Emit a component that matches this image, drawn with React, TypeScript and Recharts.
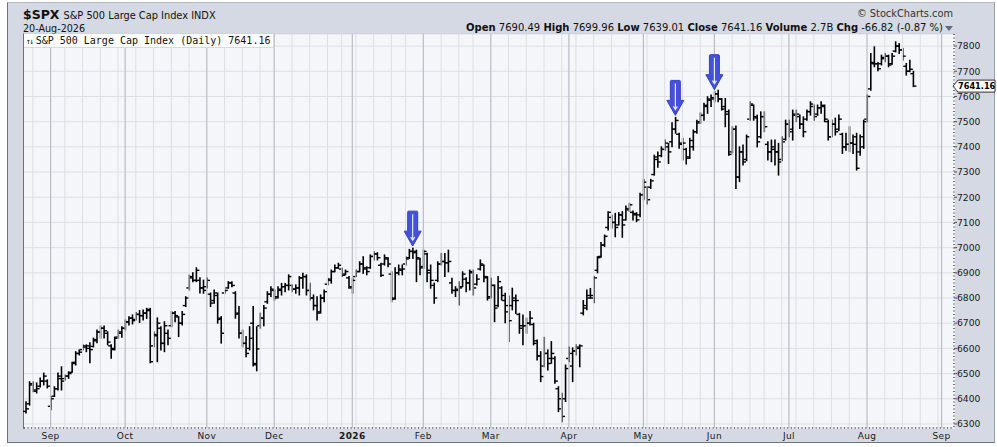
import React from "react";
import {
  BarChart,
  Bar,
  XAxis,
  YAxis,
  CartesianGrid,
  ReferenceLine,
  ReferenceDot,
} from "recharts";

// trading calendar (NYSE holidays skipped), blank slots run on past the last bar
const firstDay = "2025-08-21";
const axisEnd = "2026-09-04";
const holidays = [
  "2025-09-01", "2025-11-27", "2025-12-25", "2026-01-01", "2026-01-19",
  "2026-02-16", "2026-04-03", "2026-05-25", "2026-06-19", "2026-07-03",
];

const opens = [
  6350, 6380, 6460, 6430, 6450, 6470, 6470, 6370, 6410, 6440,
  6480, 6480, 6490, 6505, 6545, 6580, 6595, 6605, 6610, 6608,
  6630, 6665, 6680, 6660, 6610, 6600, 6645, 6660, 6680, 6705,
  6720, 6715, 6735, 6730, 6740, 6755, 6610, 6650, 6680, 6620,
  6660, 6690, 6740, 6725, 6700, 6770, 6840, 6880, 6870, 6870,
  6840, 6845, 6815, 6790, 6810, 6720, 6820, 6840, 6860, 6820,
  6740, 6660, 6620, 6600, 6700, 6540, 6690, 6720, 6785, 6815,
  6830, 6805, 6830, 6845, 6850, 6850, 6835, 6840, 6880, 6885,
  6830, 6800, 6770, 6745, 6800, 6855, 6870, 6905, 6920, 6915,
  6895, 6880, 6840, 6885, 6905, 6935, 6915, 6920, 6965, 6975,
  6930, 6935, 6955, 6895, 6800, 6900, 6910, 6935, 6960, 6985,
  6985, 6955, 6925, 6975, 6910, 6850, 6870, 6935, 6945, 6940,
  6860, 6830, 6830, 6845, 6875, 6860, 6900, 6855, 6915, 6930,
  6880, 6805, 6850, 6770, 6840, 6790, 6770, 6770, 6790, 6735,
  6690, 6690, 6700, 6695, 6630, 6570, 6530, 6580, 6560, 6560,
  6440, 6400, 6400, 6560, 6530, 6590, 6600, 6740, 6760, 6800,
  6800, 6910, 6965, 7010, 7080, 7120, 7100, 7090, 7130, 7110,
  7150, 7140, 7130, 7130, 7210, 7240, 7240, 7290, 7350, 7365,
  7390, 7400, 7420, 7470, 7450, 7410, 7390, 7360, 7400, 7460,
  7500, 7525, 7560, 7585, 7590, 7610, 7590, 7560, 7540, 7380,
  7470, 7280, 7380, 7350, 7510, 7565, 7515, 7440, 7520, 7410,
  7380, 7390, 7380, 7350, 7430, 7490, 7460, 7525, 7520, 7490,
  7510, 7540, 7560, 7530, 7555, 7560, 7500, 7440, 7490, 7470,
  7450, 7400, 7410, 7415, 7440, 7380, 7400, 7510, 7630, 7730,
  7730, 7730, 7750, 7760, 7730, 7780, 7800, 7785, 7720, 7700,
  7690.49,
];
const highs = [
  6388, 6468, 6468, 6463, 6482, 6502, 6475, 6409, 6448, 6502,
  6527, 6494, 6507, 6545, 6587, 6594, 6614, 6614, 6622, 6641,
  6673, 6689, 6689, 6666, 6614, 6645, 6673, 6686, 6713, 6726,
  6733, 6742, 6750, 6752, 6759, 6759, 6666, 6721, 6686, 6706,
  6673, 6746, 6746, 6726, 6746, 6805, 6891, 6900, 6920, 6880,
  6871, 6879, 6820, 6832, 6820, 6726, 6832, 6865, 6865, 6825,
  6766, 6673, 6647, 6686, 6766, 6686, 6740, 6770, 6825, 6845,
  6832, 6845, 6858, 6858, 6892, 6852, 6852, 6885, 6898, 6892,
  6859, 6812, 6805, 6812, 6832, 6878, 6911, 6931, 6938, 6918,
  6911, 6885, 6878, 6911, 6944, 6964, 6924, 6971, 6984, 6980,
  6938, 6971, 6960, 6904, 6920, 6931, 6931, 6964, 6993, 6998,
  6990, 6958, 6990, 6978, 6931, 6859, 6944, 6977, 6977, 6990,
  6878, 6845, 6865, 6904, 6880, 6911, 6911, 6892, 6951, 6931,
  6885, 6878, 6852, 6885, 6845, 6819, 6808, 6839, 6812, 6739,
  6733, 6720, 6746, 6700, 6633, 6587, 6644, 6594, 6627, 6567,
  6448, 6422, 6534, 6606, 6602, 6614, 6614, 6790, 6832, 6838,
  6885, 6964, 7020, 7050, 7142, 7129, 7136, 7139, 7143, 7165,
  7176, 7145, 7139, 7216, 7271, 7242, 7271, 7367, 7380, 7400,
  7427, 7414, 7496, 7517, 7454, 7434, 7394, 7434, 7467, 7506,
  7535, 7573, 7599, 7606, 7619, 7625, 7592, 7592, 7546, 7480,
  7483, 7400, 7407, 7447, 7579, 7566, 7526, 7539, 7539, 7420,
  7427, 7427, 7414, 7440, 7506, 7506, 7546, 7546, 7526, 7519,
  7546, 7579, 7566, 7566, 7579, 7566, 7506, 7506, 7514, 7526,
  7454, 7454, 7480, 7447, 7454, 7447, 7506, 7606, 7771, 7797,
  7735, 7764, 7771, 7764, 7771, 7817, 7810, 7791, 7731, 7744,
  7699.96,
];
const lows = [
  6344, 6375, 6428, 6423, 6447, 6455, 6443, 6356, 6409, 6435,
  6435, 6475, 6481, 6505, 6534, 6574, 6594, 6587, 6543, 6606,
  6622, 6641, 6641, 6614, 6561, 6594, 6641, 6644, 6673, 6693,
  6697, 6713, 6703, 6713, 6719, 6543, 6606, 6547, 6594, 6587,
  6614, 6686, 6706, 6647, 6693, 6766, 6832, 6865, 6865, 6820,
  6819, 6840, 6766, 6779, 6700, 6621, 6819, 6839, 6845, 6720,
  6641, 6606, 6567, 6594, 6530, 6511, 6680, 6690, 6779, 6806,
  6792, 6800, 6812, 6825, 6832, 6825, 6819, 6812, 6839, 6812,
  6792, 6753, 6713, 6740, 6785, 6852, 6859, 6904, 6918, 6885,
  6892, 6839, 6819, 6885, 6904, 6898, 6892, 6918, 6951, 6951,
  6885, 6931, 6924, 6785, 6795, 6892, 6892, 6931, 6957, 6957,
  6865, 6892, 6918, 6865, 6839, 6779, 6865, 6931, 6885, 6904,
  6819, 6806, 6772, 6845, 6825, 6832, 6812, 6852, 6911, 6865,
  6792, 6800, 6706, 6765, 6792, 6702, 6627, 6753, 6739, 6660,
  6614, 6660, 6693, 6614, 6554, 6468, 6527, 6514, 6541, 6462,
  6349, 6309, 6389, 6547, 6468, 6574, 6527, 6733, 6753, 6799,
  6781, 6900, 6962, 7004, 7070, 7077, 7043, 7090, 7041, 7110,
  7143, 7110, 7103, 7123, 7190, 7173, 7235, 7288, 7319, 7361,
  7387, 7334, 7400, 7454, 7394, 7348, 7332, 7354, 7387, 7454,
  7493, 7506, 7533, 7560, 7579, 7579, 7546, 7480, 7367, 7375,
  7235, 7262, 7328, 7345, 7506, 7506, 7400, 7435, 7460, 7348,
  7341, 7328, 7288, 7345, 7427, 7440, 7427, 7500, 7473, 7440,
  7506, 7526, 7506, 7525, 7533, 7500, 7427, 7440, 7447, 7465,
  7374, 7387, 7381, 7374, 7308, 7367, 7394, 7500, 7625, 7718,
  7702, 7725, 7738, 7718, 7728, 7777, 7771, 7744, 7685, 7698,
  7639.01,
];
const closes = [
  6360, 6455, 6435, 6440, 6470, 6490, 6450, 6400, 6440, 6490,
  6470, 6490, 6500, 6540, 6580, 6585, 6610, 6600, 6595, 6635,
  6665, 6680, 6670, 6625, 6595, 6640, 6665, 6680, 6705, 6720,
  6710, 6735, 6730, 6740, 6750, 6547, 6655, 6700, 6620, 6690,
  6640, 6740, 6730, 6700, 6735, 6800, 6885, 6870, 6910, 6840,
  6830, 6870, 6780, 6820, 6715, 6660, 6830, 6860, 6850, 6736,
  6660, 6620, 6580, 6640, 6535, 6598, 6720, 6760, 6815, 6835,
  6800, 6835, 6845, 6850, 6885, 6835, 6840, 6880, 6885, 6830,
  6800, 6770, 6740, 6800, 6825, 6875, 6905, 6920, 6930, 6890,
  6905, 6845, 6870, 6905, 6935, 6920, 6905, 6965, 6975, 6960,
  6890, 6960, 6935, 6795, 6900, 6915, 6915, 6955, 6985, 6980,
  6960, 6920, 6985, 6900, 6870, 6800, 6935, 6945, 6940, 6945,
  6830, 6835, 6840, 6895, 6860, 6905, 6840, 6875, 6935, 6885,
  6800, 6850, 6760, 6865, 6810, 6745, 6710, 6800, 6790, 6680,
  6690, 6700, 6720, 6620, 6570, 6488, 6580, 6540, 6580, 6470,
  6360, 6330, 6520, 6580, 6590, 6605, 6610, 6770, 6810, 6810,
  6880, 6960, 7010, 7045, 7140, 7100, 7080, 7130, 7090, 7155,
  7170, 7135, 7110, 7210, 7260, 7190, 7265, 7360, 7340, 7390,
  7415, 7380, 7470, 7505, 7415, 7415, 7355, 7425, 7460, 7495,
  7525, 7565, 7590, 7595, 7610, 7590, 7550, 7530, 7370, 7470,
  7280, 7380, 7340, 7440, 7570, 7520, 7420, 7520, 7480, 7380,
  7400, 7380, 7340, 7420, 7490, 7470, 7530, 7530, 7490, 7460,
  7540, 7570, 7520, 7555, 7565, 7510, 7440, 7490, 7460, 7510,
  7400, 7410, 7415, 7410, 7315, 7440, 7500, 7600, 7735, 7730,
  7710, 7755, 7760, 7725, 7760, 7800, 7785, 7760, 7700, 7708,
  7641.16,
];

const yTicks = [
  6300, 6400, 6500, 6600, 6700, 6800, 6900, 7000,
  7100, 7200, 7300, 7400, 7500, 7600, 7700, 7800,
];
const monthTickLabels = [
  "Sep", "Oct", "Nov", "Dec", "2026", "Feb", "Mar",
  "Apr", "May", "Jun", "Jul", "Aug", "Sep",
];
const arrowDates = ["2026-01-28", "2026-05-14", "2026-06-01"];

function tradingDays(from: string, to: string) {
  const out: string[] = [];
  const d = new Date(from + "T00:00:00Z");
  const end = new Date(to + "T00:00:00Z");
  while (d <= end) {
    const wd = d.getUTCDay();
    const iso = d.toISOString().slice(0, 10);
    if (wd !== 0 && wd !== 6 && !holidays.includes(iso)) out.push(iso);
    d.setUTCDate(d.getUTCDate() + 1);
  }
  return out;
}

const dates = tradingDays(firstDay, axisEnd);
const weekday = (s: string) => new Date(s + "T00:00:00Z").getUTCDay();

const rows = dates.map((date, i) =>
  i < closes.length
    ? { date, open: opens[i], high: highs[i], low: lows[i], close: closes[i] }
    : { date }
);

const monthStarts = dates.filter(
  (d, i) => i > 0 && d.slice(5, 7) !== dates[i - 1].slice(5, 7)
);
const weekStarts = dates.filter(
  (d, i) =>
    i > 0 && weekday(d) <= weekday(dates[i - 1]) && !monthStarts.includes(d)
);

const lastClose = closes[closes.length - 1];
const highOn = (d: string) => highs[dates.indexOf(d)];

const SANS = "'DejaVu Sans', Verdana, sans-serif";
const MONO = "'DejaVu Sans Mono', monospace";

const OhlcBar = (props: any) => {
  const { x, y, width, height, payload } = props;
  if (!payload || payload.high == null || x == null) return null;
  const top = Math.min(y, y + height);
  const bottom = Math.max(y, y + height);
  const span = payload.high - payload.low;
  const py = (v: number) =>
    span > 0 ? top + ((payload.high - v) / span) * (bottom - top) : top;
  const cx = x + width / 2;
  const o = py(payload.open);
  const c = py(payload.close);
  return (
    <g>
      <line x1={cx} x2={cx} y1={top - 0.5} y2={bottom + 0.5} stroke="#000" strokeWidth={1.6} />
      <line x1={cx - 3} x2={cx} y1={o} y2={o} stroke="#000" strokeWidth={1.4} />
      <line x1={cx} x2={cx + 3} y1={c} y2={c} stroke="#000" strokeWidth={1.4} />
    </g>
  );
};

const ArrowMark = (props: any) => {
  const { cx, cy } = props;
  if (cx == null || cy == null) return null;
  const tip = cy - 2;
  const top = tip - 35;
  const neck = tip - 15;
  const outer = `M${cx - 5},${top + 1} Q${cx - 5},${top} ${cx - 4},${top} L${cx + 4},${top} Q${cx + 5},${top} ${cx + 5},${top + 1} L${cx + 5},${neck} L${cx + 8.5},${neck} L${cx},${tip} L${cx - 8.5},${neck} L${cx - 5},${neck} Z`;
  const inner = `M${cx},${top + 3} L${cx},${tip - 7} M${cx - 2},${tip - 9} L${cx},${tip - 6} L${cx + 2},${tip - 9}`;
  return (
    <g>
      <path d={outer} fill="#4352d8" stroke="#3342c6" strokeWidth={1} strokeLinejoin="round" />
      <path d={inner} fill="none" stroke="#e6e9ff" strokeWidth={1.2} />
    </g>
  );
};

const PriceTag = (props: any) => {
  const vb = props.viewBox;
  if (!vb) return null;
  const y = vb.y;
  const x0 = vb.x + vb.width;
  const path = `M${x0 - 1},${y} L${x0 + 4},${y - 6} L${x0 + 41},${y - 6} L${x0 + 41},${y + 6} L${x0 + 4},${y + 6} Z`;
  return (
    <g>
      <path d={path} fill="#fff" stroke="#333" strokeWidth={1} />
      <text x={x0 + 4} y={y + 3.2} fontFamily={SANS} fontSize={8.2} fontWeight="bold" fill="#000">
        {lastClose.toFixed(2)}
      </text>
    </g>
  );
};

const MonthTick = (props: any) => {
  const { x, y, payload } = props;
  const label = monthTickLabels[monthStarts.indexOf(payload.value)] ?? "";
  return (
    <text
      x={x}
      y={y + 11}
      textAnchor="middle"
      fontFamily={SANS}
      fontSize={9}
      letterSpacing={0.4}
      fontWeight={label === "2026" ? "bold" : "normal"}
      fill="#1a1a1a"
    >
      {label}
    </text>
  );
};

export default function App() {
  return (
    <div
      style={{
        position: "absolute",
        left: 0,
        top: 0,
        width: 997,
        height: 447,
        background: "#fff",
        overflow: "hidden",
        fontFamily: SANS,
        color: "#111",
      }}
    >
      <div
        style={{
          position: "absolute",
          left: 7,
          top: 2,
          width: 986,
          height: 439,
          background: "#d4d9e3",
          borderTop: "1px solid #b3b7c0",
          borderLeft: "1px solid #6f737c",
          borderBottom: "1px solid #6f737c",
          borderRight: "1px solid #9a9ea8",
        }}
      />
      <div
        style={{
          position: "absolute",
          left: 23,
          top: 33,
          width: 931,
          height: 395,
          background: "#f5f6fa",
          borderTop: "1px solid #c4c8d0",
          borderLeft: "1px solid #6c707a",
        }}
      />

      <div
        style={{
          position: "absolute",
          left: 23,
          top: 6,
          height: 16,
          lineHeight: "16px",
          whiteSpace: "nowrap",
        }}
      >
        <span style={{ fontWeight: "bold", fontSize: 12.5 }}>$SPX</span>
        <span style={{ fontSize: 9.8, marginLeft: 4 }}>S&amp;P 500 Large Cap Index INDX</span>
      </div>
      <div
        style={{
          position: "absolute",
          left: 23,
          top: 23,
          height: 11,
          lineHeight: "11px",
          fontSize: 9.6,
          whiteSpace: "nowrap",
        }}
      >
        20-Aug-2026
      </div>
      <div
        style={{
          position: "absolute",
          right: 997 - 953,
          top: 8,
          lineHeight: "12px",
          fontSize: 9.8,
          color: "#333",
          whiteSpace: "nowrap",
        }}
      >
        © StockCharts.com
      </div>
      <div
        style={{
          position: "absolute",
          right: 997 - 943,
          top: 22,
          lineHeight: "12px",
          fontSize: 10,
          whiteSpace: "nowrap",
        }}
      >
        <b>Open</b> 7690.49 <b>High</b> 7699.96 <b>Low</b> 7639.01 <b>Close</b> 7641.16{" "}
        <b>Volume</b> 2.7B <b>Chg</b> -66.82 (-0.87 %)
      </div>
      <div
        style={{
          position: "absolute",
          left: 945,
          top: 26,
          width: 0,
          height: 0,
          borderLeft: "4px solid transparent",
          borderRight: "4px solid transparent",
          borderTop: "5px solid #5b6a8c",
        }}
      />

      <div style={{ position: "absolute", left: 0, top: 0 }}>
        <BarChart
          width={997}
          height={447}
          data={rows}
          margin={{ top: 34, right: 0, bottom: 0, left: 24 }}
          barCategoryGap={0}
          barGap={0}
        >
          <CartesianGrid vertical={false} stroke="#dcdfe6" />
          {weekStarts.map((d) => (
            <ReferenceLine key={"w" + d} x={d} stroke="#dcdfe6" strokeWidth={1} />
          ))}
          {monthStarts.map((d) => (
            <ReferenceLine key={"m" + d} x={d} stroke="#b9bdc6" strokeWidth={1.2} />
          ))}
          <XAxis
            dataKey="date"
            ticks={monthStarts}
            interval={0}
            height={19}
            tickLine={false}
            tickSize={0}
            tickMargin={0}
            axisLine={{ stroke: "#6f737c", strokeWidth: 2, strokeDasharray: "1 2.55" }}
            tick={<MonthTick />}
          />
          <YAxis
            orientation="right"
            type="number"
            domain={[6284, 7848]}
            allowDataOverflow
            ticks={yTicks}
            interval={0}
            width={43}
            tickSize={3}
            tickMargin={0}
            tickLine={{ stroke: "#555" }}
            axisLine={{ stroke: "#6f737c", strokeWidth: 2, strokeDasharray: "1 2.5" }}
            tick={{ fontSize: 9.2, fill: "#1a1a1a", fontFamily: SANS }}
          />
          <Bar
            dataKey={(d: any) => (d.high == null ? null : [d.low, d.high])}
            shape={<OhlcBar />}
            isAnimationActive={false}
          />
          {arrowDates.map((d) => (
            <ReferenceDot key={"a" + d} x={d} y={highOn(d)} r={0} shape={<ArrowMark />} />
          ))}
          <ReferenceLine y={lastClose} stroke="none" label={<PriceTag />} />
        </BarChart>
      </div>

      <div
        style={{
          position: "absolute",
          left: 24,
          top: 34,
          width: 249,
          height: 13,
          background: "#fff",
          borderRight: "1px solid #d6d9e0",
          borderBottom: "1px solid #d6d9e0",
          fontFamily: MONO,
          fontSize: 10,
          lineHeight: "13px",
          whiteSpace: "nowrap",
        }}
      >
        <span style={{ fontSize: 8, letterSpacing: -1.5, marginLeft: 2, marginRight: 3 }}>↑↓</span>
        S&amp;P 500 Large Cap Index (Daily) 7641.16
      </div>
    </div>
  );
}
